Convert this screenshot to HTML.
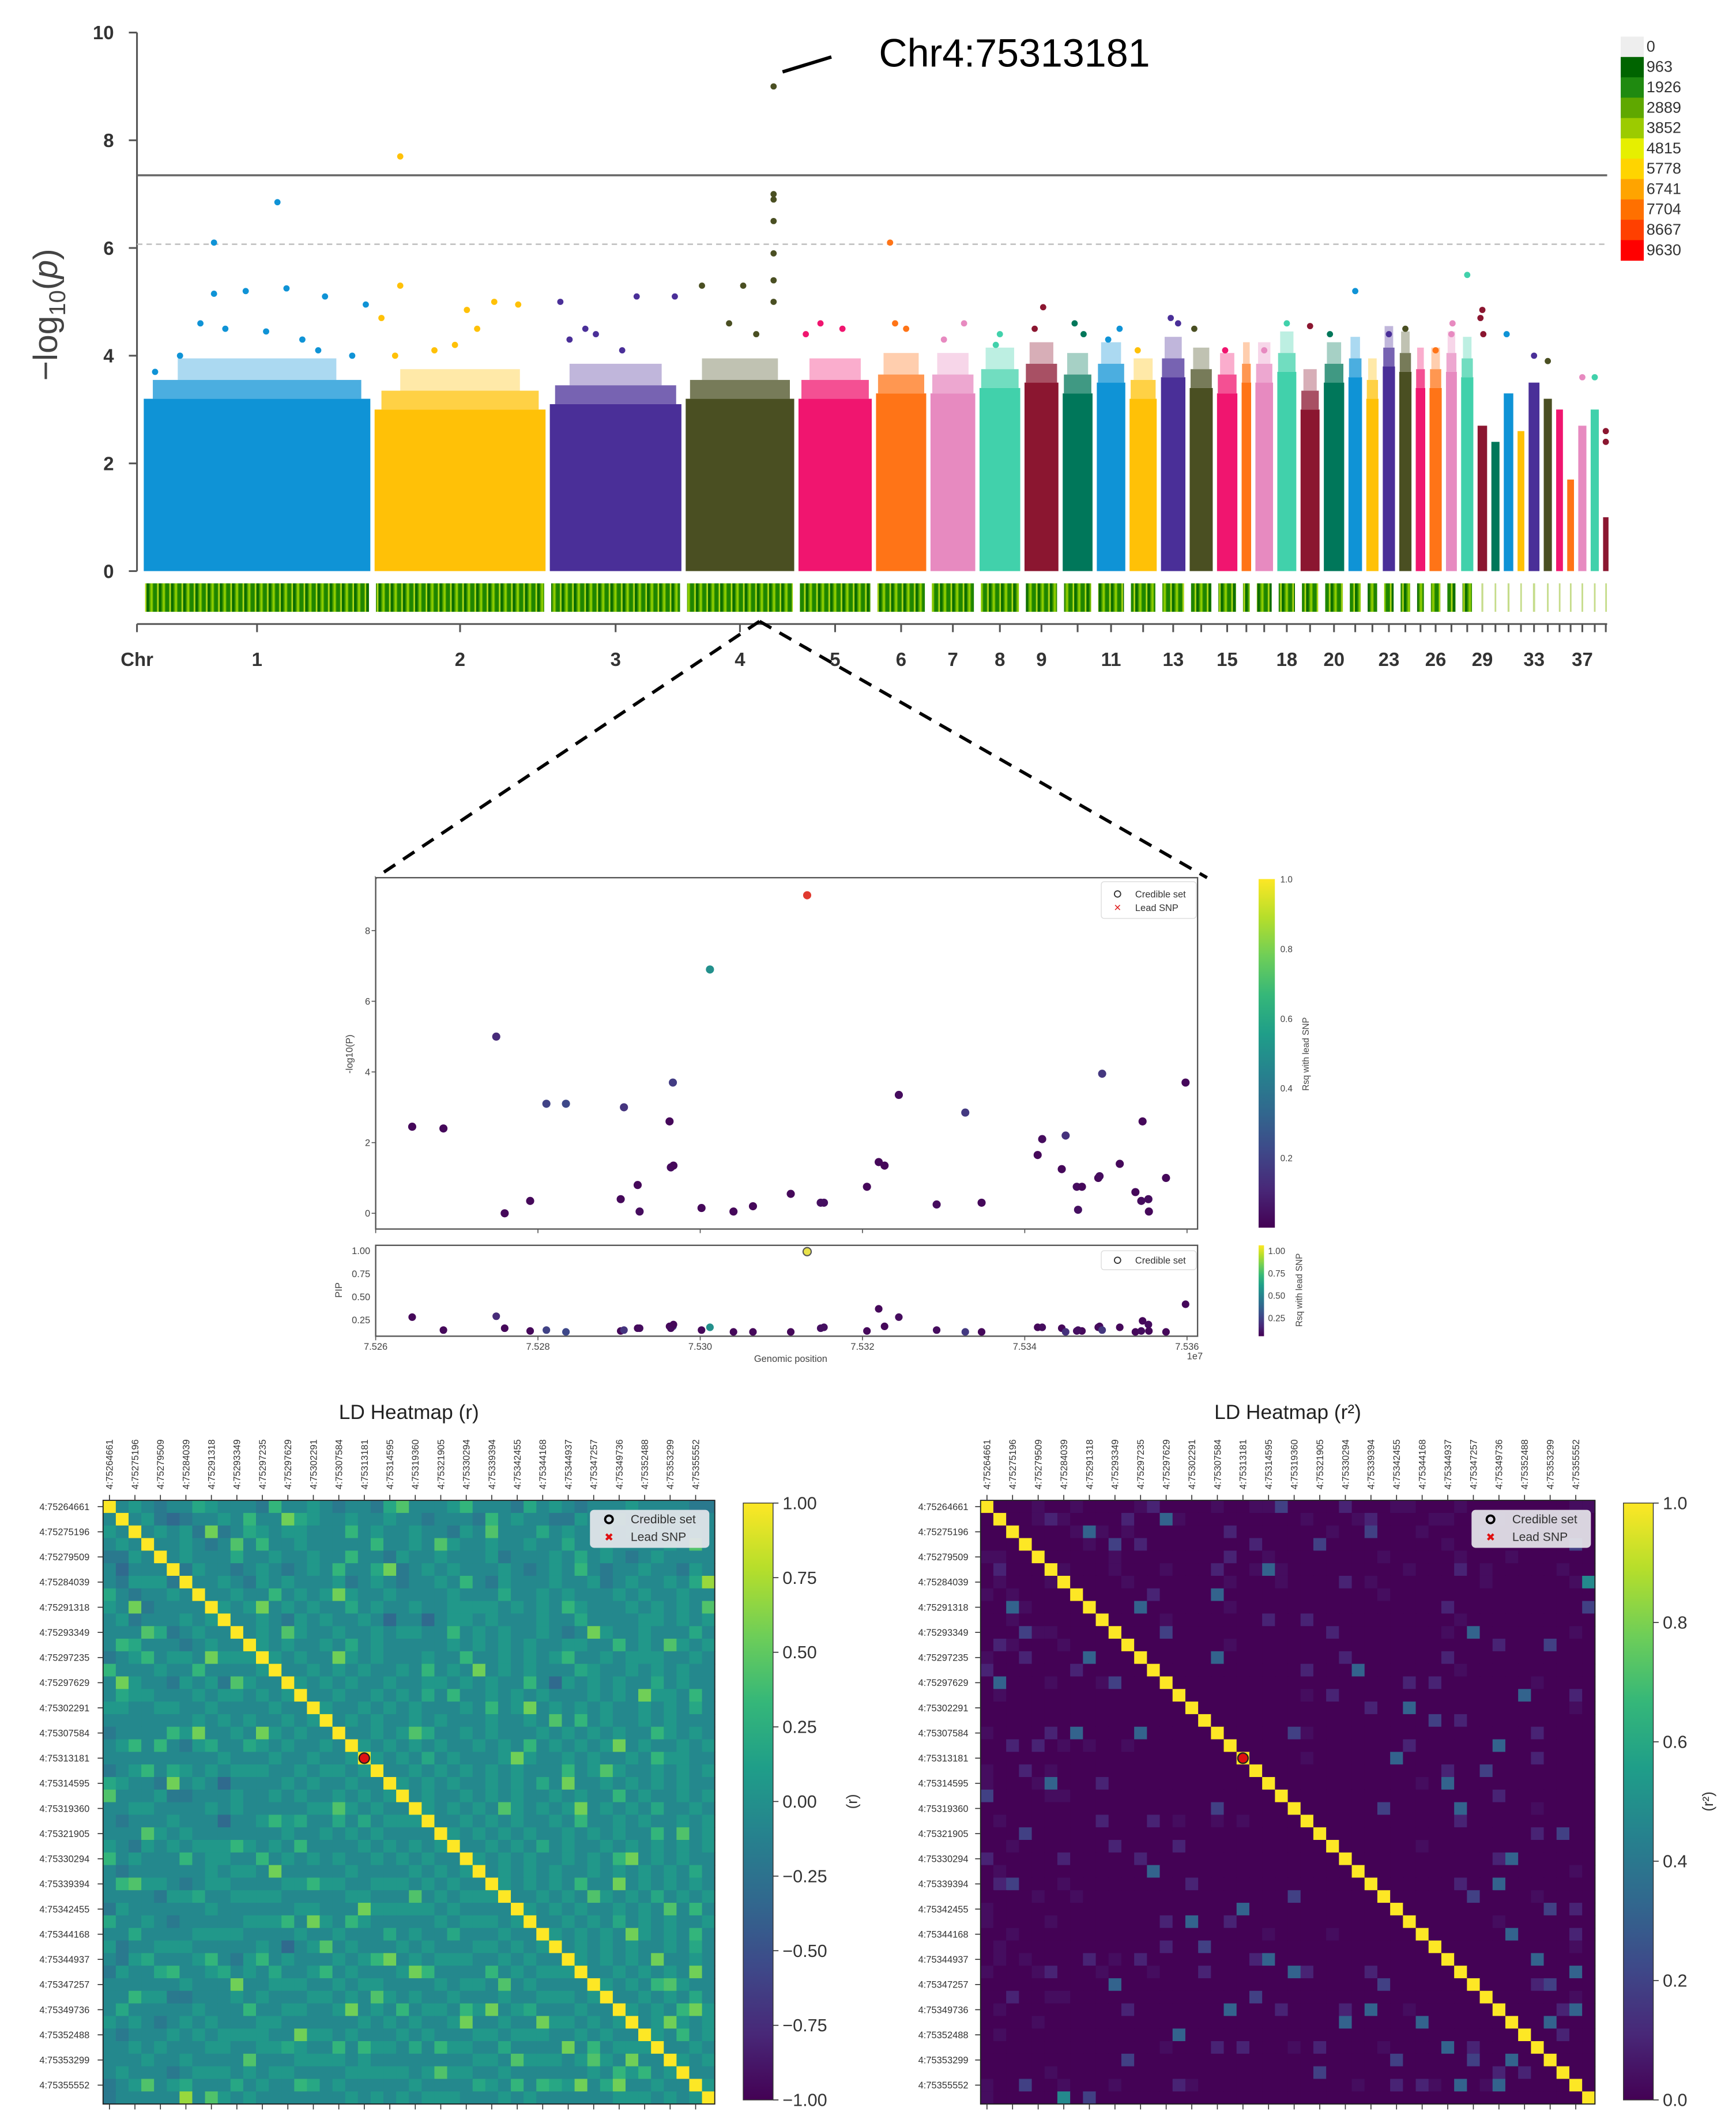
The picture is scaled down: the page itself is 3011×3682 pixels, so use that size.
<!DOCTYPE html>
<html><head><meta charset="utf-8"><title>GWAS Manhattan, regional and LD heatmaps</title>
<style>
html,body{margin:0;padding:0;background:#fff;}
svg{display:block;font-family:"Liberation Sans",sans-serif;}
</style></head>
<body>
<svg id="fig" width="3011" height="3682" viewBox="0 0 1280 1565" preserveAspectRatio="none" xmlns="http://www.w3.org/2000/svg">
<defs>
<pattern id="ldStripe" patternUnits="userSpaceOnUse" width="9" height="30">
<rect x="0" y="0" width="9" height="30" fill="#4aa000"/>
<rect x="0" y="0" width="2" height="30" fill="#0d6e00"/>
<rect x="3" y="0" width="1.5" height="30" fill="#8ccc00"/>
<rect x="5" y="0" width="2.5" height="30" fill="#1f8500"/>
<rect x="8" y="0" width="1" height="30" fill="#b7dc1a"/>
</pattern>
<linearGradient id="viridisV" x1="0" y1="1" x2="0" y2="0">
<stop offset="0" stop-color="#440154"/><stop offset="0.111" stop-color="#482878"/><stop offset="0.222" stop-color="#3e4989"/><stop offset="0.333" stop-color="#31688e"/><stop offset="0.444" stop-color="#26828e"/><stop offset="0.556" stop-color="#1f9e89"/><stop offset="0.667" stop-color="#35b779"/><stop offset="0.778" stop-color="#6ece58"/><stop offset="0.889" stop-color="#b5de2b"/><stop offset="1" stop-color="#fde725"/>
</linearGradient>
</defs>
<g id="manhattan"></g>
<g id="zoomLines">
<line x1="560" y1="458" x2="277" y2="647" stroke="#000" stroke-width="2.4" stroke-dasharray="10,7"/>
<line x1="560" y1="458" x2="890" y2="647" stroke="#000" stroke-width="2.4" stroke-dasharray="10,7"/>
</g>
<g id="regional"></g>
<g id="hmR"></g>
<g id="hmR2"></g>
</svg>
<script>
// ================= DATA =================
const chrLen = [167,126,97,80,54,37,33,30,25,22,21,20,18,17,15,7,13,14,14,15,10,9,9,9,7,9,8,9,7,6,7,5,8,6,5,5,6,6,4];
const chrBulk = [3.2,3.0,3.1,3.2,3.2,3.3,3.3,3.4,3.5,3.3,3.5,3.2,3.6,3.4,3.3,3.5,3.5,3.7,3.0,3.5,3.6,3.2,3.8,3.7,3.4,3.4,3.7,3.6,2.7,2.4,3.3,2.6,3.5,3.2,3.0,1.7,2.7,3.0,1.0];
const chrLabels = ["1","2","3","4","5","6","7","8","9","","11","","13","","15","","","18","","20","","","23","","","26","","","29","","","","33","","","","37","",""];
const peakChr  = [0,0,0,0,0,0,0,0,0,0,0,0,0,0,0,1,1,1,1,1,1,1,1,1,1,2,2,2,2,2,2,2,3,3,3,3,3,3,3,3,3,3,3,4,4,4,5,5,5,6,6,7,7,8,8,9,9,10,10,11,12,12,13,14,16,17,18,19,20,22,23,25,26,26,27,28,28,28,30,32,33,36,37,38,38];
const peakFrac = [0.31,0.59,0.31,0.45,0.63,0.80,0.98,0.25,0.36,0.54,0.70,0.05,0.92,0.77,0.16,0.15,0.15,0.04,0.54,0.70,0.84,0.60,0.35,0.12,0.47,0.08,0.66,0.95,0.27,0.35,0.15,0.55,0.15,0.53,0.81,0.81,0.81,0.81,0.81,0.81,0.81,0.40,0.65,0.30,0.60,0.10,0.28,0.38,0.60,0.75,0.30,0.50,0.40,0.55,0.30,0.40,0.70,0.80,0.40,0.30,0.40,0.70,0.20,0.40,0.50,0.50,0.50,0.30,0.50,0.50,0.50,0.50,0.60,0.50,0.50,0.50,0.30,0.60,0.30,0.50,0.50,0.50,0.50,0.50,0.50];
const peakVal  = [6.1,6.85,5.15,5.2,5.25,5.1,4.95,4.6,4.5,4.45,4.3,3.7,4.0,4.1,4.0,7.7,5.3,4.7,4.85,5.0,4.95,4.5,4.1,4.0,4.2,5.0,5.1,5.1,4.5,4.4,4.3,4.1,5.3,5.3,9.0,7.0,6.9,6.5,5.9,5.4,5.0,4.6,4.4,4.6,4.5,4.4,6.1,4.6,4.5,4.6,4.3,4.4,4.2,4.9,4.5,4.6,4.4,4.5,4.3,4.1,4.7,4.6,4.5,4.1,4.1,4.6,4.55,4.4,5.2,4.4,4.5,4.1,4.6,4.4,5.5,4.85,4.7,4.4,4.4,4.0,3.9,3.6,3.6,2.6,2.4];
const legendCounts = ["0","963","1926","2889","3852","4815","5778","6741","7704","8667","9630"];
const legendColors = ["#eeeeee","#006400","#1f8a10","#5fa800","#9ccb00","#e6ef00","#ffd400","#ffa400","#ff7000","#ff4000","#ff0000"];
const yTicksM = [0,2,4,6,8,10];

const snpPos = [75264500,75268350,75274860,75275900,75279040,75281040,75283450,75290200,75290600,75292290,75292530,75296220,75296630,75296380,75296700,75300160,75301200,75304100,75306500,75311160,75313181,75314850,75315250,75320550,75322000,75322720,75324480,75329140,75332670,75334680,75341590,75342150,75344560,75345040,75346410,75347050,75346570,75349060,75349220,75349540,75351710,75353640,75354360,75354520,75355240,75355300,75357410,75359820];
const snpLogP = [2.45,2.4,5.0,0.0,0.35,3.1,3.1,0.4,3.0,0.8,0.05,2.6,3.7,1.3,1.35,0.15,6.9,0.05,0.2,0.55,9.0,0.3,0.3,0.75,1.45,1.35,3.35,0.25,2.85,0.3,1.65,2.1,1.25,2.2,0.75,0.75,0.1,1.0,1.05,3.95,1.4,0.6,0.35,2.6,0.4,0.05,1.0,3.7];
const snpRsq  = [0.02,0.02,0.12,0.02,0.02,0.2,0.22,0.02,0.15,0.02,0.03,0.02,0.18,0.03,0.02,0.02,0.5,0.02,0.02,0.02,1.0,0.04,0.04,0.02,0.02,0.02,0.03,0.03,0.17,0.02,0.02,0.03,0.02,0.14,0.03,0.02,0.04,0.02,0.03,0.16,0.02,0.02,0.03,0.02,0.03,0.02,0.02,0.02];
const snpPIP  = [0.28,0.14,0.29,0.16,0.13,0.14,0.12,0.13,0.14,0.16,0.16,0.18,0.18,0.16,0.2,0.14,0.17,0.12,0.12,0.12,0.99,0.16,0.17,0.13,0.37,0.18,0.28,0.14,0.12,0.12,0.17,0.17,0.16,0.12,0.13,0.13,0.14,0.17,0.18,0.14,0.17,0.12,0.13,0.24,0.2,0.13,0.12,0.42];
const leadIndex = 20;
const xTicksReg = [75260000,75280000,75300000,75320000,75340000,75360000];
const xTickLabelsReg = ["7.526","7.528","7.530","7.532","7.534","7.536"];
const yTicksReg = [0,2,4,6,8];
const yTicksPIP = [0.25,0.5,0.75,1.0];
const yTickLabelsPIP = ["0.25","0.50","0.75","1.00"];

const ldLabels = ["4:75264661","4:75275196","4:75279509","4:75284039","4:75291318","4:75293349","4:75297235","4:75297629","4:75302291","4:75307584","4:75313181","4:75314595","4:75319360","4:75321905","4:75330294","4:75339394","4:75342455","4:75344168","4:75344937","4:75347257","4:75349736","4:75352488","4:75353299","4:75355552"];
const ldN = 48;
const ldLead = 20;
// upper triangle r codes: digit d -> r = (d-3.5)/8 ; row i lists columns i+1..47
const ldRows = [
"34323354333263343233252333463332534323334333322",
"3421233436332543343343323332634332243353233433",
"343423235434433363433433243333353433634343343",
"33432343633433333633433433433433533433334373",
"3433353343343363324334333423334353432343333",
"243323432343633532343433343234363233433243",
"33432434333423432334363243334334234334353",
"3343363434343343333433353343433343433433",
"434334343353433433444434343643334343437",
"33432434334363343443433343353333443434",
"3433433433434433634343343233433433353",
"434334353433333434343433443363433434",
"43433343433343363343434633434443343",
"3343434334363433343433354334343433",
"434343343344343433633434343353433",
"33433434353633434343334343344363",
"4334343433343634334343433434353",
"343433434333433434363433434333",
"33434353343433343434343364343",
"4343434334343634343433433434",
"434353433343433434334364433",
"33434343434333634343343434",
"4343433434353433434343433",
"343343434334343363433434",
"43434334343433434353343",
"3343434334363343433434",
"434343433434343363434",
"33434353433434343434",
"4343433434363343433",
"343434334343434353",
"43434363343434343",
"3343433434353434",
"434343343434363",
"33434353434334",
"4343433434363",
"343434334353",
"43434363343",
"3343434353",
"434363433",
"33434353",
"4343634",
"343434",
"43634",
"3343",
"434",
"33",
"4"
];
const ldStrongI = [0,1,2,3,5,6,7,8,9,10,11,12,13,14,15,16,18,19,20,21,22,24,26,28,30,32,34,36,38,40,3,9,17,24,31,37,41,2,10];
const ldStrongJ = [23,14,8,26,22,47,18,12,22,38,44,18,29,35,42,33,24,40,32,39,36,37,45,41,40,44,41,43,44,46,10,25,35,31,38,46,44,30,14];
const ldStrongC = [7,8,8,7,8,9,8,8,1,8,7,8,8,1,8,8,7,8,8,7,8,8,7,8,8,7,8,8,7,8,7,1,7,7,7,8,8,7,7];

// ================= HELPERS =================
const NS = "http://www.w3.org/2000/svg";
function mk(tag, attrs, parent){
  const e = document.createElementNS(NS, tag);
  for (const k in attrs) e.setAttribute(k, attrs[k]);
  parent.appendChild(e);
  return e;
}
function txt(str, attrs, parent){
  const e = mk("text", attrs, parent);
  e.textContent = str;
  return e;
}
const VIR = [[68,1,84],[72,40,120],[62,73,137],[49,104,142],[38,130,142],[31,158,137],[53,183,121],[110,206,88],[181,222,43],[253,231,37]];
function viridis(t){
  t = Math.max(0, Math.min(1, t));
  const s = t*9, i = Math.min(8, Math.floor(s)), f = s - i;
  const a = VIR[i], b = VIR[i+1];
  return "rgb(" + [0,1,2].map(k => Math.round(a[k] + (b[k]-a[k])*f)).join(",") + ")";
}
const palette = ["#0f93d6","#ffc107","#4a2f98","#4a4f22","#f0156f","#ff7417","#e78ac0","#41d1ab","#8b1630","#00775a"];

// ================= MANHATTAN =================
(function(){
  const g = document.getElementById("manhattan");
  const y = v => 421 - v*39.7;
  const gap = 3.15, x0 = 106, span = 1080;
  const total = chrLen.reduce((a,b)=>a+b,0);
  const k = (span - gap*(chrLen.length-1)) / total;
  const starts = []; let cur = x0;
  chrLen.forEach(L => { starts.push(cur); cur += L*k + gap; });

  let e = mk("line",{x1:101,y1:y(10),x2:101,y2:y(0),stroke:"#555","stroke-width":1.3},g);
  
  
  yTicksM.forEach(v => {
    const tl = mk("line",{x1:95,y1:y(v),x2:101,y2:y(v),stroke:"#555","stroke-width":1.3},g);
    
    
    const t = txt(String(v),{x:84,y:y(v)+5,"text-anchor":"end","font-size":14,"font-weight":"bold",fill:"#333"},g);
    
    
  });
  const yl = txt("",{transform:"translate(42,232) rotate(-90)","text-anchor":"middle","font-size":25,fill:"#444"},g);
  
  
  yl.innerHTML = '−log<tspan font-size="17" dy="6">10</tspan><tspan dy="-6">(</tspan><tspan font-style="italic">p</tspan>)';

  e = mk("line",{x1:101,y1:y(7.35),x2:1185,y2:y(7.35),stroke:"#666","stroke-width":1.5},g);
  
  
  e = mk("line",{x1:101,y1:y(6.07),x2:1185,y2:y(6.07),stroke:"#bbb","stroke-width":1,"stroke-dasharray":"4,3"},g);
  
  

  chrLen.forEach((L,i) => {
    const w = L*k, col = palette[i%10];
    const sparse = i >= 28;
    const r = mk("rect",{x:starts[i],y:y(chrBulk[i]),width:w,height:y(0)-y(chrBulk[i]),fill:col},g);
    
    
    if (!sparse) {
      const cap = mk("rect",{x:starts[i]+w*0.04,y:y(chrBulk[i]+0.35),width:w*0.92,height:y(chrBulk[i])-y(chrBulk[i]+0.35),fill:col,opacity:0.75},g);
      
      
      const cap2 = mk("rect",{x:starts[i]+w*0.15,y:y(chrBulk[i]+0.75),width:w*0.7,height:y(chrBulk[i]+0.35)-y(chrBulk[i]+0.75),fill:col,opacity:0.35},g);
      
      
    }
    const s = mk("rect",{x:starts[i]+(sparse?w*0.4:1),y:430,width:sparse?Math.max(1.2,w*0.2):w-2,height:21,fill:sparse?"#c5dc8a":"url(#ldStripe)"},g);
    
    
    const cx = starts[i]+w/2;
    const t = mk("line",{x1:cx,y1:460,x2:cx,y2:466,stroke:"#555","stroke-width":1.3},g);
    
    
    if (chrLabels[i]) {
      const lb = txt(chrLabels[i],{x:cx,y:491,"text-anchor":"middle","font-size":14,"font-weight":"bold",fill:"#333"},g);
      
      
    }
  });
  e = mk("line",{x1:101,y1:460,x2:1185,y2:460,stroke:"#555","stroke-width":1.3},g);
  
  
  e = mk("line",{x1:101,y1:460,x2:101,y2:466,stroke:"#555","stroke-width":1.3},g);
  
  
  e = txt("Chr",{x:101,y:491,"text-anchor":"middle","font-size":14,"font-weight":"bold",fill:"#333"},g);
  
  

  peakChr.forEach((c,i) => {
    const cx = starts[c] + chrLen[c]*k*peakFrac[i];
    const p = mk("circle",{cx:cx,cy:y(peakVal[i]),r:2.3,fill:palette[c%10]},g);
    
    
  });

  e = mk("line",{x1:577,y1:53,x2:613,y2:42,stroke:"#000","stroke-width":2.5},g);
  
  
  e = txt("Chr4:75313181",{x:648,y:49,"font-size":29,fill:"#000"},g);
  
  

  legendCounts.forEach((lab,i) => {
    const r = mk("rect",{x:1195,y:27+15*i,width:17,height:15.2,fill:legendColors[i]},g);
    
    
    const t = txt(lab,{x:1214,y:38+15*i,"font-size":11.5,fill:"#333"},g);
    
    
  });
})();

// ================= REGIONAL =================
(function(){
  const g = document.getElementById("regional");
  const X0 = 277, X1 = 883, P0 = 75260000, P1 = 75361300;
  const xs = p => X0 + (p-P0)/(P1-P0)*(X1-X0);
  const ys = v => 894.4 - v*26.05;
  const yp = v => 990 - v*68;
  let e = mk("rect",{x:X0,y:647,width:X1-X0,height:259,fill:"none",stroke:"#555","stroke-width":1},g);
  
  
  e = mk("rect",{x:X0,y:918,width:X1-X0,height:67,fill:"none",stroke:"#555","stroke-width":1},g);
  
  
  yTicksReg.forEach(v => {
    const t = txt(String(v),{x:273,y:ys(v)+2.5,"text-anchor":"end","font-size":7,fill:"#444"},g);
    
    
    const l = mk("line",{x1:274,y1:ys(v),x2:277,y2:ys(v),stroke:"#555","stroke-width":0.7},g);
    
    
  });
  yTicksPIP.forEach((v,i) => {
    const t = txt(yTickLabelsPIP[i],{x:273,y:yp(v)+2.5,"text-anchor":"end","font-size":7,fill:"#444"},g);
    
    
  });
  xTicksReg.forEach((p,i) => {
    const l = mk("line",{x1:xs(p),y1:985,x2:xs(p),y2:988,stroke:"#555","stroke-width":0.7},g);
    
    
    const l2 = mk("line",{x1:xs(p),y1:906,x2:xs(p),y2:909,stroke:"#555","stroke-width":0.7},g);
    
    
    const t = txt(xTickLabelsReg[i],{x:xs(p),y:995,"text-anchor":"middle","font-size":7,fill:"#444"},g);
    
    
  });
  e = txt("Genomic position",{x:583,y:1004,"text-anchor":"middle","font-size":7,fill:"#444"},g);
  
  
  e = txt("1e7",{x:881,y:1002,"text-anchor":"middle","font-size":7,fill:"#444"},g);
  
  
  e = txt("-log10(P)",{transform:"translate(260,777) rotate(-90)","text-anchor":"middle","font-size":7,fill:"#444"},g);
  
  
  e = txt("PIP",{transform:"translate(252,951) rotate(-90)","text-anchor":"middle","font-size":7,fill:"#444"},g);
  
  

  snpPos.forEach((p,i) => {
    const lead = i === leadIndex;
    const c = mk("circle",{cx:xs(p),cy:ys(snpLogP[i]),r:3,fill:lead?"#e0392f":viridis(snpRsq[i])},g);
    
    
    const c2 = mk("circle",{cx:xs(p),cy:yp(snpPIP[i]),r:lead?3:2.8,fill:lead?"#e8e24a":viridis(snpRsq[i]),stroke:lead?"#555":"none","stroke-width":0.9},g);
    
    
  });

  e = mk("rect",{x:812,y:650,width:70,height:27,fill:"#fff",stroke:"#ddd","stroke-width":0.6,rx:2},g);
  
  
  e = mk("circle",{cx:824,cy:659,r:2.3,fill:"none",stroke:"#333","stroke-width":0.8},g);
  
  
  e = txt("Credible set",{x:837,y:661.5,"font-size":7,fill:"#333"},g);
  
  
  e = txt("×",{x:824,y:672,"text-anchor":"middle","font-size":9,fill:"#e02020"},g);
  
  
  e = txt("Lead SNP",{x:837,y:671.5,"font-size":7,fill:"#333"},g);
  
  
  e = mk("rect",{x:812,y:922,width:70,height:14,fill:"#fff",stroke:"#ddd","stroke-width":0.6,rx:2},g);
  
  
  e = mk("circle",{cx:824,cy:929,r:2.3,fill:"none",stroke:"#333","stroke-width":0.8},g);
  
  
  e = txt("Credible set",{x:837,y:931.5,"font-size":7,fill:"#333"},g);
  
  

  e = mk("rect",{x:928,y:648,width:12,height:257,fill:"url(#viridisV)"},g);
  
  
  [0.2,0.4,0.6,0.8,1.0].forEach(v => {
    const yy = 905 - v*257;
    const t = txt(v.toFixed(1),{x:944,y:yy+2.5,"font-size":6.5,fill:"#444"},g);
    
    
  });
  e = txt("Rsq with lead SNP",{transform:"translate(965,777) rotate(-90)","text-anchor":"middle","font-size":6.5,fill:"#444"},g);
  
  
  e = mk("rect",{x:928,y:918,width:4,height:67,fill:"url(#viridisV)"},g);
  
  
  ["0.25","0.50","0.75","1.00"].forEach((l,i) => {
    const t = txt(l,{x:935,y:974-i*16.5,"font-size":6.5,fill:"#444"},g);
    
    
  });
  e = txt("Rsq with lead SNP",{transform:"translate(960,951) rotate(-90)","text-anchor":"middle","font-size":6.5,fill:"#444"},g);
  
  
})();

// ================= LD HEATMAPS =================
function rValue(i,j){
  if (i === j) return 1;
  const a = Math.min(i,j), b = Math.max(i,j);
  for (let s=0; s<ldStrongI.length; s++) {
    if (ldStrongI[s]===a && ldStrongJ[s]===b) return (ldStrongC[s]-3.5)/8;
  }
  const row = ldRows[a] || "";
  const ch = row[b-a-1];
  const d = ch === undefined ? 3.5 : parseInt(ch,10);
  return (d-3.5)/8;
}
function drawHeatmap(gid, X0, X1, Y0, Y1, squared, title, cbTicks, cbTitle, labelX, legendX, cbTitleOff){
  const g = document.getElementById(gid);
  const cw = (X1-X0)/ldN, ch = (Y1-Y0)/ldN;
  for (let i=0;i<ldN;i++) for (let j=0;j<ldN;j++) {
    const r = rValue(i,j);
    const v = squared ? r*r : r;
    const t = squared ? v : (v+1)/2;
    const c = mk("rect",{x:X0+j*cw,y:Y0+i*ch,width:cw+0.4,height:ch+0.4,fill:viridis(t)},g);
    
    
  }
  let e = mk("rect",{x:X0,y:Y0,width:X1-X0,height:Y1-Y0,fill:"none",stroke:"#222","stroke-width":0.8},g);
  
  
  e = mk("circle",{cx:X0+(ldLead+0.5)*cw,cy:Y0+(ldLead+0.5)*ch,r:3.8,fill:"#e01010",stroke:"#222","stroke-width":1},g);
  
  
  ldLabels.forEach((lab,k) => {
    const idx = k*2;
    const cx = X0+(idx+0.5)*cw, cy = Y0+(idx+0.5)*ch;
    const t = txt(lab,{x:labelX,y:cy+2.5,"text-anchor":"end","font-size":7,fill:"#333"},g);
    
    
    const tl = mk("line",{x1:X0-4,y1:cy,x2:X0,y2:cy,stroke:"#333","stroke-width":0.7},g);
    
    
    const ct = txt(lab,{transform:"translate("+(cx+2.5)+","+(Y0-8)+") rotate(-90)","font-size":7,fill:"#333"},g);
    
    
    const tt = mk("line",{x1:cx,y1:Y0-4,x2:cx,y2:Y0,stroke:"#333","stroke-width":0.7},g);
    
    
    const bt = mk("line",{x1:cx,y1:Y1,x2:cx,y2:Y1+4,stroke:"#333","stroke-width":0.7},g);
    
    
  });
  e = txt(title,{x:(X0+X1)/2,y:1046,"text-anchor":"middle","font-size":15,fill:"#222"},g);
  
  
  e = mk("rect",{x:legendX,y:Y0+7,width:88,height:28,fill:"#e6e6ec",opacity:0.92,rx:3},g);
  
  
  e = mk("circle",{cx:legendX+14,cy:Y0+14,r:2.8,fill:"none",stroke:"#000","stroke-width":1.6},g);
  
  
  e = txt("Credible set",{x:legendX+30,y:Y0+17,"font-size":9,fill:"#333"},g);
  
  
  e = txt("✖",{x:legendX+14,y:Y0+30,"text-anchor":"middle","font-size":8,fill:"#e01010"},g);
  
  
  e = txt("Lead SNP",{x:legendX+30,y:Y0+30,"font-size":9,fill:"#333"},g);
  
  
  const cbx = X1+21;
  e = mk("rect",{x:cbx,y:1108,width:22,height:440,fill:"url(#viridisV)",stroke:"#333","stroke-width":0.6},g);
  
  
  cbTicks.forEach((lab,i) => {
    const yy = 1108 + i*440/(cbTicks.length-1);
    const l = mk("line",{x1:cbx+22,y1:yy,x2:cbx+26,y2:yy,stroke:"#333","stroke-width":0.7},g);
    
    
    const t = txt(lab,{x:cbx+29,y:yy+4.5,"font-size":13,fill:"#333"},g);
    
    
  });
  e = txt(cbTitle,{transform:"translate("+(cbx+cbTitleOff)+",1328) rotate(-90)","text-anchor":"middle","font-size":11,fill:"#333"},g);
  
  
}
drawHeatmap("hmR",76,527,1106,1551,false,"LD Heatmap (r)",["1.00","0.75","0.50","0.25","0.00","−0.25","−0.50","−0.75","−1.00"],"(r)",66,435,84);
drawHeatmap("hmR2",723,1176,1106,1551,true,"LD Heatmap (r²)",["1.0","0.8","0.6","0.4","0.2","0.0"],"(r²)",714,1085,66);
</script>
</body></html>
